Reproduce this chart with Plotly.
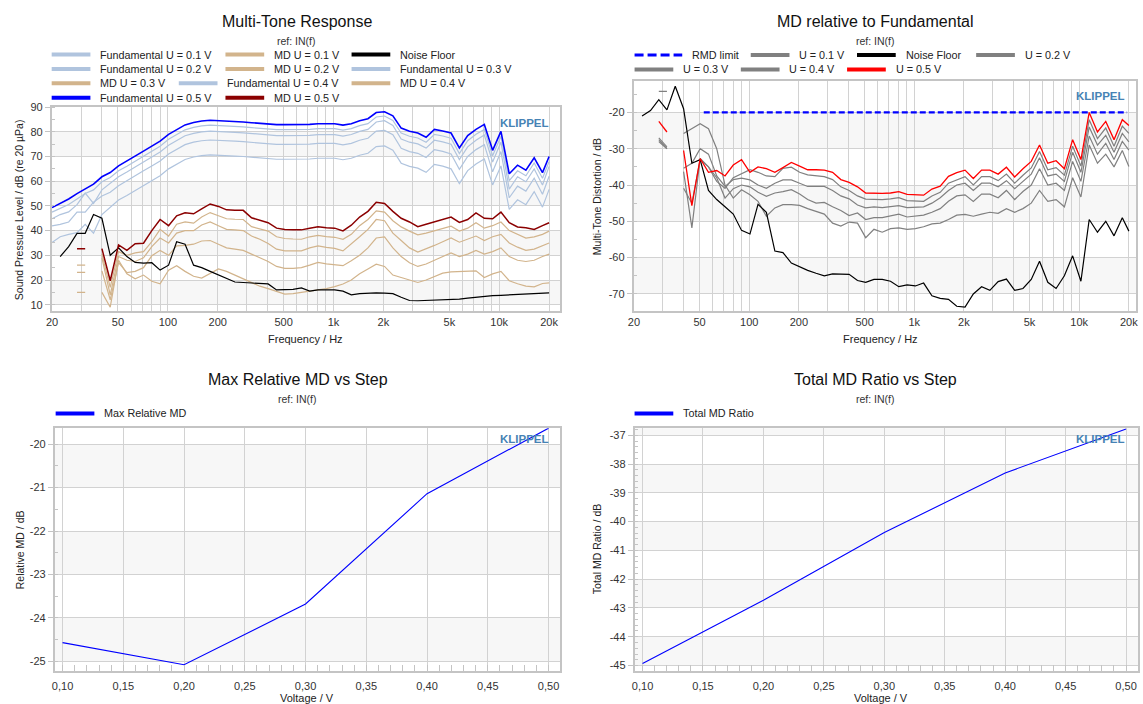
import math
import plotly.graph_objects as go

W, H = 1143, 704
FONT = "Arial, 'Liberation Sans', Helvetica, sans-serif"

# ---------------- data ----------------
freq = [20, 22.4, 25.2, 28.3, 31.7, 35.6, 40, 44.9, 50.4, 56.6, 63.5, 71.3, 80, 89.8, 101, 113, 127, 143, 160, 180,
        202, 226, 254, 285, 320, 359, 403, 453, 508, 570, 640, 718, 806, 905, 1016, 1140, 1280, 1437, 1613, 1810,
        2032, 2281, 2560, 2874, 3225, 3620, 4064, 4561, 5120, 5747, 6451, 7241, 8128, 9123, 10240, 11494, 12902,
        14482, 16256, 18246, 20000]

fund_05 = [49.3, 51.0, 52.8, 55.0, 57.0, 58.8, 61.8, 63.5, 66.2, 68.1, 70.2, 72.2, 74.2, 76.2, 79.0, 81.0, 82.8, 83.8, 84.4, 84.7,
           84.6, 84.4, 84.2, 84.0, 83.7, 83.4, 83.0, 82.9, 82.9, 82.9, 83.0, 83.0, 83.3, 83.3, 83.3, 82.7, 83.3, 84.5, 85.3, 87.8,
           88.1, 86.5, 81.5, 80.2, 79.5, 77.8, 81.0, 80.3, 79.5, 73.5, 78.5, 81.0, 83.0, 72.5, 80.2, 63.0, 66.5, 64.5, 69.5, 63.5, 70.0]
fund_04 = [47.5, 49.0, 50.6, 52.8, 55.0, 56.5, 59.8, 61.5, 64.2, 66.1, 68.2, 70.2, 72.2, 74.2, 77.0, 79.0, 80.8, 81.8, 82.4, 82.7,
           82.6, 82.4, 82.2, 82.0, 81.7, 81.4, 81.0, 80.9, 80.9, 80.9, 81.0, 81.0, 81.3, 81.3, 81.3, 80.7, 81.3, 82.5, 83.3, 86.0,
           86.4, 84.6, 79.5, 78.2, 77.5, 75.8, 79.0, 78.3, 77.4, 71.2, 76.4, 79.0, 81.0, 70.3, 78.2, 60.2, 64.2, 62.2, 67.4, 61.2, 68.0]
fund_03 = [44.8, 46.5, 47.6, 50.5, 55.2, 51.0, 56.5, 59.0, 61.8, 63.7, 65.8, 67.8, 69.8, 71.8, 74.6, 76.6, 78.4, 79.4, 80.0, 80.3,
           80.2, 80.0, 79.8, 79.6, 79.3, 79.0, 78.6, 78.5, 78.5, 78.5, 78.6, 78.6, 78.9, 78.9, 78.9, 78.3, 78.9, 80.2, 81.0, 84.0,
           84.5, 82.6, 77.1, 75.8, 75.1, 73.4, 76.6, 75.9, 75.0, 68.8, 73.9, 76.6, 78.7, 67.8, 75.8, 56.8, 61.8, 59.8, 65.0, 58.5, 66.0]
fund_02 = [41.9, 42.5, 43.5, 47.5, 47.5, 51.5, 54.0, 55.5, 58.2, 60.1, 62.2, 64.2, 66.2, 68.2, 71.0, 73.0, 74.8, 75.8, 76.4, 76.7,
           76.6, 76.4, 76.2, 76.0, 75.7, 75.4, 75.0, 74.9, 74.9, 74.9, 75.0, 75.0, 75.3, 75.3, 75.3, 74.7, 75.3, 76.6, 77.4, 80.3,
           80.6, 78.8, 73.3, 72.0, 71.3, 69.6, 72.8, 72.1, 71.0, 64.8, 70.0, 72.8, 74.8, 63.8, 72.0, 53.3, 58.0, 56.0, 61.2, 54.7, 62.0]
fund_01 = [35.2, 37.5, 38.5, 39.2, 42.5, 39.0, 46.5, 49.5, 52.4, 54.2, 56.2, 58.2, 60.2, 62.2, 65.0, 67.0, 68.8, 69.8, 70.4, 70.7,
           70.6, 70.4, 70.2, 70.0, 69.7, 69.4, 69.0, 68.9, 68.9, 68.9, 69.0, 69.0, 69.3, 69.3, 69.3, 68.7, 69.3, 70.5, 71.3, 74.0,
           74.3, 72.6, 67.3, 66.0, 65.3, 63.6, 66.8, 66.1, 65.0, 59.0, 64.3, 67.0, 69.0, 58.5, 66.2, 48.6, 52.5, 50.5, 55.8, 49.5, 56.7]

md_05 = [None, None, None, 32.7, 32.7, None, 32.7, 19.7, 34.2, 32.0, 34.7, 34.9, 40.0, 44.5, 42.0, 46.0, 47.2, 46.8, 48.8, 50.8,
         49.8, 48.4, 48.2, 48.2, 45.2, 44.2, 43.2, 41.0, 40.5, 40.4, 40.3, 41.0, 41.6, 41.2, 41.0, 39.9, 42.2, 45.5, 47.8, 51.5,
         51.0, 47.8, 45.0, 43.5, 41.6, 42.6, 43.6, 44.6, 45.5, 43.3, 44.5, 47.2, 45.0, 44.8, 47.5, 43.2, 41.5, 41.2, 40.5, 42.0, 43.2]
md_04 = [None, None, None, 26.0, 26.0, None, 30.5, 17.0, 31.5, 30.0, 31.0, 31.5, 35.5, 40.5, 37.8, 42.6, 43.5, 43.0, 45.5, 47.3,
         46.0, 44.8, 44.6, 44.5, 41.6, 40.6, 39.8, 37.5, 36.8, 36.6, 36.5, 37.5, 38.1, 37.6, 37.3, 36.5, 38.5, 42.0, 44.5, 48.0,
         47.5, 44.0, 41.5, 39.8, 38.3, 39.0, 40.0, 41.0, 41.8, 39.8, 41.0, 43.2, 41.0, 42.0, 43.5, 40.0, 38.5, 37.0, 37.5, 38.5, 39.8]
md_03 = [None, None, None, 23.1, 23.1, None, 29.0, 14.0, 29.5, 28.0, 27.5, 29.0, 33.5, 37.0, 35.0, 39.0, 40.0, 40.0, 42.3, 43.5,
         42.0, 40.5, 40.3, 40.0, 37.8, 36.5, 34.8, 32.5, 31.8, 31.8, 31.8, 33.0, 33.8, 33.2, 32.8, 31.8, 34.5, 37.5, 40.5, 44.5,
         44.0, 39.0, 36.0, 33.0, 31.3, 32.5, 34.0, 35.5, 37.0, 35.3, 36.5, 37.8, 36.0, 37.5, 38.5, 35.0, 33.3, 32.0, 32.5, 34.0, 35.0]
md_02 = [None, None, None, 15.0, 15.0, None, 23.7, 12.0, 27.0, 23.0, 23.5, 25.0, 29.8, 32.0, 30.0, 33.8, 34.0, 34.5, 35.8, 36.0,
         34.5, 33.0, 32.5, 32.0, 30.5, 29.0, 27.5, 25.5, 24.7, 24.7, 25.0, 26.0, 27.1, 26.5, 26.2, 25.8, 27.8, 30.0, 33.0, 37.0,
         37.5, 33.0, 29.5, 27.0, 25.5, 26.5, 28.0, 29.5, 31.0, 29.5, 30.5, 32.0, 30.5, 31.5, 33.0, 29.5, 28.0, 27.5, 28.0, 29.5, 30.5]
md_01 = [None, None, None, None, None, None, 15.0, 9.0, 28.0, 22.5, 20.5, 22.0, 19.5, 18.5, 24.0, 25.8, 23.5, 21.5, 20.8, 22.5,
         24.5, 23.5, 22.0, 20.5, 19.0, 17.5, 16.5, 15.5, 14.3, 14.5, 15.0, 15.3, 15.7, 16.5, 17.3, 18.4, 20.0, 22.5, 24.5, 26.4,
         25.5, 22.0, 21.0, 20.0, 19.0, 20.0, 21.5, 22.8, 23.3, 23.4, 23.5, 23.7, 21.0, 22.5, 23.5, 19.7, 18.5, 17.5, 17.2, 18.6, 18.8]
noise_spl = [None, 29.5, 33.5, 38.9, 38.9, 46.5, 45.0, 30.0, 33.0, 29.5, 27.1, 26.8, 27.0, 24.0, 26.0, 35.5, 34.5, 26.0, 25.0, 23.5,
             22.0, 20.5, 19.2, 19.0, 18.8, 18.7, 18.4, 16.0, 16.2, 16.2, 16.8, 15.5, 16.0, 16.0, 16.0, 15.5, 14.0, 14.5, 14.7, 14.8,
             14.7, 14.5, 13.0, 11.7, 11.6, 11.7, 11.8, 11.9, 12.0, 12.3, 12.7, 13.1, 13.4, 13.7, 13.8, 14.0, 14.1, 14.3, 14.5, 14.7, 14.8]

rel_05 = [None, None, None, -22.5, -25.4, None, -30.5, -45.7, -32.7, -36.5, -36.0, -37.5, -34.5, -33.0, -36.5, -35.0, -35.5, -36.5, -35.2, -33.8,
          -34.8, -35.8, -35.8, -35.9, -36.5, -38.5, -39.3, -40.5, -42.2, -42.3, -42.3, -42.2, -41.8, -42.6, -42.8, -42.8, -41.1, -40.3, -37.6, -36.6,
          -35.9, -38.2, -35.9, -35.9, -37.0, -35.1, -37.8, -35.5, -33.5, -29.0, -34.0, -33.3, -35.5, -27.5, -33.0, -20.0, -25.4, -22.5, -27.5, -22.0, -23.6]
rel_04 = [None, None, None, -27.0, -29.5, None, -36.3, -51.8, -32.7, -35.0, -39.0, -40.9, -38.0, -36.8, -35.8, -36.5, -37.5, -37.7, -35.4, -35.1,
          -36.5, -37.2, -37.5, -37.7, -38.5, -40.5, -41.5, -43.0, -43.9, -44.0, -44.0, -43.8, -43.5, -44.3, -44.5, -44.5, -43.0, -42.0, -39.5, -38.5,
          -37.7, -40.0, -37.7, -37.7, -38.8, -37.0, -39.5, -37.3, -35.3, -30.8, -35.8, -35.2, -37.3, -29.3, -34.8, -22.0, -27.2, -24.3, -29.3, -23.8, -25.8]
rel_03 = [None, None, None, -27.5, -30.0, None, -35.4, -34.0, -30.0, -31.5, -37.5, -40.4, -38.5, -38.1, -38.6, -40.0, -40.9, -39.5, -38.6, -38.6,
          -39.5, -40.4, -40.4, -40.4, -41.5, -43.0, -43.8, -45.5, -46.3, -46.0, -46.2, -46.0, -45.7, -46.2, -46.2, -46.0, -45.0, -43.5, -41.5, -40.0,
          -39.5, -41.5, -39.5, -39.5, -40.5, -38.8, -41.0, -39.0, -37.0, -32.5, -37.5, -37.0, -39.0, -31.0, -36.5, -24.0, -29.0, -26.3, -31.0, -25.8, -28.1]
rel_02 = [None, None, None, -28.0, -30.0, None, -40.9, -45.0, -33.0, -35.0, -38.0, -43.6, -41.0, -40.0, -40.5, -42.0, -43.1, -42.2, -41.8, -41.3,
          -42.5, -44.0, -45.0, -44.8, -46.0, -47.0, -48.4, -47.7, -49.5, -49.0, -49.0, -48.5, -48.0, -48.8, -48.5, -48.3, -47.5, -46.5, -44.5, -43.0,
          -42.7, -44.5, -42.5, -42.5, -43.5, -41.5, -44.0, -41.8, -40.0, -35.5, -40.0, -39.5, -41.5, -33.5, -39.0, -26.5, -31.5, -28.5, -33.0, -28.0, -30.4]
rel_01 = [None, None, None, -14.2, -14.2, None, -25.8, -24.5, -23.1, -24.5, -30.0, -40.0, -43.6, -41.3, -42.7, -44.5, -48.6, -46.3, -45.4, -45.4,
          -45.6, -46.5, -47.2, -48.0, -50.5, -51.3, -50.2, -50.5, -54.5, -52.2, -53.0, -52.0, -51.8, -52.2, -52.0, -51.5, -50.7, -50.5, -49.5, -48.3,
          -48.1, -48.6, -48.0, -47.5, -47.8, -46.5, -47.5, -46.5, -45.0, -41.5, -44.5, -44.0, -46.0, -38.0, -43.3, -29.0, -34.0, -31.5, -35.0, -30.5, -34.9]
noise_rel = [None, -21.0, -19.5, -16.5, -19.3, -12.8, -19.0, -34.0, -33.0, -41.5, -44.0, -46.0, -48.0, -52.5, -53.5, -45.3, -47.5, -58.2, -58.6, -61.5,
             -62.6, -63.5, -64.3, -65.0, -64.5, -64.6, -64.6, -66.3, -66.8, -66.0, -66.0, -66.5, -68.0, -67.5, -67.8, -67.0, -70.5, -71.2, -71.5, -73.4,
             -73.6, -70.0, -68.0, -69.0, -66.6, -65.9, -69.0, -68.5, -66.0, -61.0, -66.8, -68.5, -65.0, -59.5, -66.5, -49.5, -53.0, -50.0, -54.0, -49.0, -52.7]
rmd_limit_f = [53, 19500]
rmd_limit_db = [-20, -20]

voltage = [0.1, 0.2, 0.3, 0.4, 0.5]
max_rel_md = [-24.57, -25.08, -23.68, -21.14, -19.63]
total_md_ratio = [-44.93, -42.73, -40.38, -38.31, -36.78]

# tick labels
f_grid = [20, 30, 40, 50, 60, 70, 80, 90, 100, 200, 300, 400, 500, 600, 700, 800, 900,
          1000, 2000, 3000, 4000, 5000, 6000, 7000, 8000, 9000, 10000, 20000]
f_labels = {20: "20", 50: "50", 100: "100", 200: "200", 500: "500", 1000: "1k", 2000: "2k",
            5000: "5k", 10000: "10k", 20000: "20k"}
v_ticks = [0.10, 0.15, 0.20, 0.25, 0.30, 0.35, 0.40, 0.45, 0.50]

# ---------------- styles ----------------
LB, TAN, BLUE, DRED, GREY, RED = "#b0c4de", "#d2b48c", "#0000ff", "#8b0000", "#808080", "#ff0000"
GRID, FRAME, BAND = "#d2d2d2", "#c4c4c4", "#f7f7f7"
TICKF = dict(family=FONT, size=11, color="#333333")
CLEAR = "rgba(0,0,0,0)"


def X(p):
    return p / W


def Y(p):
    return 1 - p / H


frames = {"": (46, 558, 102, 308), "2": (632, 1138, 76, 308),
          "3": (49, 558, 426, 671), "4": (633, 1140, 426, 671)}

fig = go.Figure()


def line(xs, ys, color, width, ax, name, dash=None):
    fig.add_trace(go.Scatter(x=xs, y=ys, mode="lines", name=name, showlegend=False,
                             line=dict(color=color, width=width, dash=dash),
                             xaxis="x" + ax, yaxis="y" + ax, hoverinfo="skip"))


# top-left
for nm, v in [("Fundamental U = 0.1 V", fund_01), ("Fundamental U = 0.2 V", fund_02),
              ("Fundamental U = 0.3 V", fund_03), ("Fundamental U = 0.4 V", fund_04)]:
    line(freq, v, LB, 1.2, "", nm)
for nm, v in [("MD U = 0.1 V", md_01), ("MD U = 0.2 V", md_02), ("MD U = 0.3 V", md_03), ("MD U = 0.4 V", md_04)]:
    line(freq, v, TAN, 1.2, "", nm)
line(freq, noise_spl, "#000000", 1.2, "", "Noise Floor")
line(freq, fund_05, BLUE, 1.6, "", "Fundamental U = 0.5 V")
line(freq, md_05, DRED, 1.5, "", "MD U = 0.5 V")

# top-right
for nm, v in [("U = 0.1 V", rel_01), ("U = 0.2 V", rel_02), ("U = 0.3 V", rel_03), ("U = 0.4 V", rel_04)]:
    line(freq, v, GREY, 1.2, "2", nm)
line(freq, noise_rel, "#000000", 1.2, "2", "Noise Floor")
line(freq, rel_05, RED, 1.3, "2", "U = 0.5 V")
line(rmd_limit_f, rmd_limit_db, BLUE, 2.2, "2", "RMD limit", dash="6px,3px")

# bottom
line(voltage, max_rel_md, BLUE, 1.1, "3", "Max Relative MD")
line(voltage, total_md_ratio, BLUE, 1.1, "4", "Total MD Ratio")


def axes(ax, xcfg, ycfg):
    x0, x1, y0, y1 = frames[ax]
    common = dict(showline=True, mirror=True, linecolor=FRAME, linewidth=1.6, zeroline=False,
                  showgrid=True, gridcolor=GRID, gridwidth=1.4, tickfont=TICKF, fixedrange=True)
    xc = dict(common, domain=[X(x0), X(x1)], anchor="y" + ax, **xcfg)
    yc = dict(common, domain=[Y(y1), Y(y0)], anchor="x" + ax, **ycfg)
    fig.update_layout(**{"xaxis" + ax: xc, "yaxis" + ax: yc})


axes("", dict(type="log", range=[math.log10(19.9), math.log10(23300)], tickmode="array", tickvals=f_grid,
              ticktext=[f_labels.get(f, "") for f in f_grid], ticks=""),
     dict(range=[7.3, 90], tickmode="array", tickvals=list(range(10, 91, 10)),
          ticktext=[str(v) for v in range(10, 91, 10)], ticks="outside", ticklen=5, tickcolor=FRAME,
          minor=dict(tickmode="linear", tick0=0, dtick=5, ticks="inside", ticklen=4, tickcolor=FRAME, showgrid=False)))
axes("2", dict(type="log", range=[math.log10(19.9), math.log10(22100)], tickmode="array", tickvals=f_grid,
               ticktext=[f_labels.get(f, "") for f in f_grid], ticks=""),
     dict(range=[-74.8, -11.45], tickmode="array", tickvals=list(range(-70, -19, 10)),
          ticktext=[str(v) for v in range(-70, -19, 10)], ticks="outside", ticklen=5, tickcolor=FRAME,
          minor=dict(tickmode="linear", tick0=0, dtick=5, ticks="inside", ticklen=4, tickcolor=FRAME, showgrid=False)))
axes("3", dict(range=[0.0935, 0.5095], tickmode="array", tickvals=v_ticks,
               ticktext=[("%.2f" % v).replace(".", ",") for v in v_ticks], ticks="outside", ticklen=4, tickcolor=CLEAR,
               minor=dict(tickmode="linear", tick0=0, dtick=0.01, ticks="inside", ticklen=6, tickcolor=FRAME, showgrid=False)),
     dict(range=[-25.23, -19.635], tickmode="array", tickvals=[-25, -24, -23, -22, -21, -20],
          ticktext=["-25", "-24", "-23", "-22", "-21", "-20"], ticks="outside", ticklen=5, tickcolor=FRAME,
          minor=dict(tickmode="linear", tick0=0, dtick=0.5, ticks="inside", ticklen=4, tickcolor=FRAME, showgrid=False)))
axes("4", dict(range=[0.0934, 0.5099], tickmode="array", tickvals=v_ticks,
               ticktext=[("%.2f" % v).replace(".", ",") for v in v_ticks], ticks="outside", ticklen=4, tickcolor=CLEAR,
               minor=dict(tickmode="linear", tick0=0, dtick=0.01, ticks="inside", ticklen=6, tickcolor=FRAME, showgrid=False)),
     dict(range=[-45.2, -36.76], tickmode="array", tickvals=list(range(-45, -36)),
          ticktext=[str(v) for v in range(-45, -36)], ticks="outside", ticklen=5, tickcolor=FRAME,
          minor=dict(tickmode="linear", tick0=0, dtick=0.2, ticks="inside", ticklen=4, tickcolor=FRAME, showgrid=False)))

shapes = []
annotations = []

# alternating background bands
bands = {"": [(10, 20), (30, 40), (50, 60), (70, 80)],
         "2": [(-30, -20), (-50, -40), (-70, -60)],
         "3": [(-21, -20), (-23, -22), (-25, -24)],
         "4": [(-37, -36), (-39, -38), (-41, -40), (-43, -42), (-45, -44)]}
for ax, bl in bands.items():
    for a, b in bl:
        shapes.append(dict(type="rect", xref="x%s domain" % ax, yref="y" + ax, x0=0, x1=1, y0=a, y1=b,
                           fillcolor=BAND, line=dict(width=0), layer="below"))


def txt(x, y, s, size=11, anchor="left", color="#222222", angle=0, bold=False):
    annotations.append(dict(x=X(x), y=Y(y), xref="paper", yref="paper", text=("<b>%s</b>" % s) if bold else s,
                            showarrow=False, xanchor=anchor, yanchor="middle", textangle=angle,
                            font=dict(family=FONT, size=size, color=color)))


def swatch(x, y, color, length=39, dash=None, width=4):
    shapes.append(dict(type="line", xref="paper", yref="paper", x0=X(x), x1=X(x + length), y0=Y(y), y1=Y(y),
                       line=dict(color=color, width=width, dash=dash)))


def legend_item(x, y, label, color, length=39, dash=None):
    swatch(x, y, color, length, dash)
    txt(x + length + 8, y, label, size=10.8)


# titles
for cx, ty, t in [(293, 16, "Multi-Tone Response"), (876, 16, "MD relative to Fundamental"),
                  (294, 377, "Max Relative MD vs Step"), (876, 377, "Total MD Ratio vs Step")]:
    txt(cx, ty, t, size=16, anchor="center", color="#111111")
    txt(cx, ty + 19, "ref: IN(f)", size=10.5, anchor="center", color="#333333")

# legends - top left
legend_item(46, 49, "Fundamental U = 0.1 V", LB)
legend_item(221, 49, "MD U = 0.1 V", TAN)
legend_item(348, 49, "Noise Floor", "#000000")
legend_item(46, 63.5, "Fundamental U = 0.2 V", LB)
legend_item(221, 63.5, "MD U = 0.2 V", TAN)
legend_item(348, 63.5, "Fundamental U = 0.3 V", LB)
legend_item(46, 78, "MD U = 0.3 V", TAN)
legend_item(174, 78, "Fundamental U = 0.4 V", LB)
legend_item(348, 78, "MD U = 0.4 V", TAN)
legend_item(46, 92.5, "Fundamental U = 0.5 V", BLUE)
legend_item(221, 92.5, "MD U = 0.5 V", DRED)
# legends - top right
swatch(633, 49.5, BLUE, 48, dash="9px,4px", width=3)
txt(689, 49.5, "RMD limit", size=10.8)
legend_item(750, 49.5, "U = 0.1 V", GREY)
legend_item(857, 49.5, "Noise Floor", "#000000")
legend_item(977, 49.5, "U = 0.2 V", GREY)
legend_item(633, 64, "U = 0.3 V", GREY)
legend_item(740, 64, "U = 0.4 V", GREY)
legend_item(847, 64, "U = 0.5 V", RED)
# legends - bottom
legend_item(50, 411, "Max Relative MD", BLUE)
legend_item(633, 411, "Total MD Ratio", BLUE)

# axis titles
txt(302, 336, "Frequency / Hz", anchor="center")
txt(881, 336, "Frequency / Hz", anchor="center")
txt(303, 698, "Voltage / V", anchor="center")
txt(881, 698, "Voltage / V", anchor="center")
txt(13, 205, "Sound Pressure Level / dB (re 20 µPa)", anchor="center", angle=-90, size=10.5)
txt(596, 192, "Multi-Tone Distortion / dB", anchor="center", angle=-90, size=10.5)
txt(14, 548, "Relative MD / dB", anchor="center", angle=-90, size=10.5)
txt(596, 548, "Total MD Ratio / dB", anchor="center", angle=-90, size=10.5)

# watermark
for x, y in [(495, 118), (1076, 91), (495, 437), (1076, 437)]:
    txt(x, y, "KLIPPEL", size=11.5, color="#4682b4", bold=True)

fig.update_layout(width=W, height=H, autosize=False, margin=dict(l=0, r=0, t=0, b=0),
                  paper_bgcolor="white", plot_bgcolor="white", showlegend=False,
                  font=dict(family=FONT, size=11, color="#222222"),
                  shapes=shapes, annotations=annotations)

fig.write_html("out.html", config={"displayModeBar": False},
               post_script="document.body.style.margin='0px';document.body.style.padding='0px';")
